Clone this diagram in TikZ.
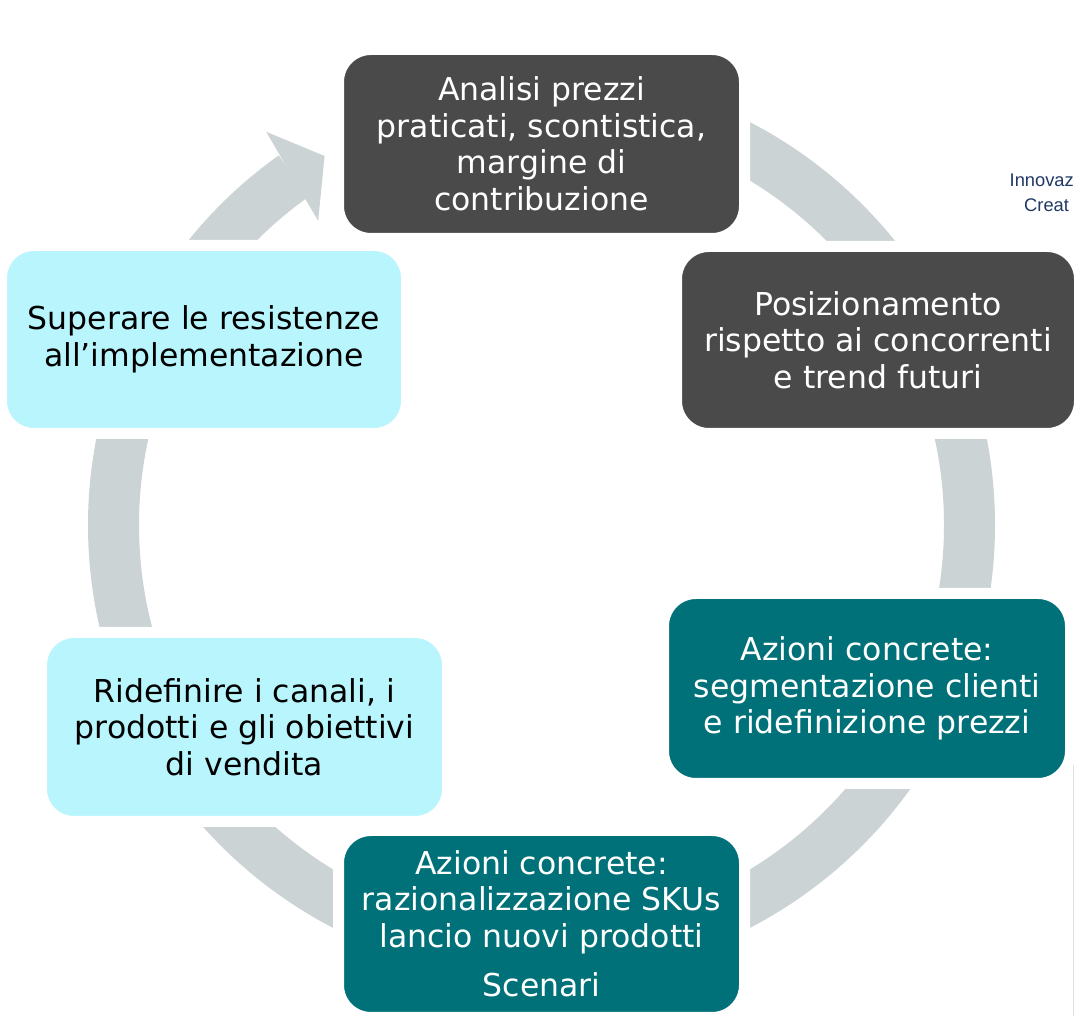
\documentclass[tikz,border=0pt]{standalone}
\usepackage{fontspec}
\setmainfont{DejaVu Sans}
\newfontfamily\logofont{Liberation Sans}
\definecolor{darkbox}{RGB}{74,74,74}
\definecolor{tealbox}{RGB}{0,113,121}
\definecolor{cyanbox}{RGB}{184,245,252}
\definecolor{ringcol}{RGB}{203,211,213}
\definecolor{navytext}{RGB}{31,56,100}
\definecolor{faintline}{RGB}{218,224,236}
\begin{document}
\begin{tikzpicture}[x=1pt,y=1pt,
  stepbox/.style={rounded corners=32.5pt, draw=white, line width=11pt,
    align=center, inner sep=0pt, font=\fontsize{31.5}{36.5}\selectfont},
  darkstep/.style={stepbox, fill=darkbox, text=white},
  tealstep/.style={stepbox, fill=tealbox, text=white},
  cyanstep/.style={stepbox, fill=cyanbox, text=black},
  ringline/.style={draw=ringcol, line width=51pt},
  logo/.style={font=\logofont\fontsize{18.3}{22}\selectfont, text=navytext, anchor=base west, inner sep=0pt}]
\clip (0,0) rectangle (1075,1016);
\coordinate (C) at (541.5,491);
% ring
\draw[ringline] ([shift={(90:428)}]C) arc[start angle=90, end angle=-234.6, radius=428];
\fill[ringcol] ([shift={(125.0:480)}]C) -- ([shift={(120.45:428)}]C) -- ([shift={(126.3:377.3)}]C) -- cycle;
% faint line at right edge
\coordinate (fl1) at (1073.5,251);
\coordinate (fl2) at (1073.5,0);
\draw[faintline, line width=1.5pt] (fl1) -- (fl2);
% boxes
\node[darkstep, minimum width=406pt, minimum height=189pt] (analisi) at (541.5,872)
  {Analisi prezzi\\praticati, scontistica,\\margine di\\contribuzione};
\node[darkstep, minimum width=403pt, minimum height=187pt] (posiz) at (878,676)
  {Posizionamento\\rispetto ai concorrenti\\e trend futuri};
\node[tealstep, minimum width=407pt, minimum height=190pt] (azioni1) at (867,327.5)
  {Azioni concrete:\\segmentazione clienti\\e ridefinizione prezzi};
\node[tealstep, minimum width=406pt, minimum height=187pt] (azioni2) at (541.5,92)
  {Azioni concrete:\\razionalizzazione SKUs\\lancio nuovi prodotti\\[13pt]Scenari};
\node[cyanstep, minimum width=406pt, minimum height=189pt] (ridef) at (244.5,289)
  {Ridefinire i canali, i\\prodotti e gli obiettivi\\di vendita};
\node[cyanstep, minimum width=405pt, minimum height=188pt] (superare) at (204,676.5)
  {Superare le resistenze\\all’implementazione};
% logo text
\node[logo] (innov) at (1009.5,829) {Innovaz};
\node[logo] (creat) at (1024,804) {Creat};
\end{tikzpicture}
\end{document}
